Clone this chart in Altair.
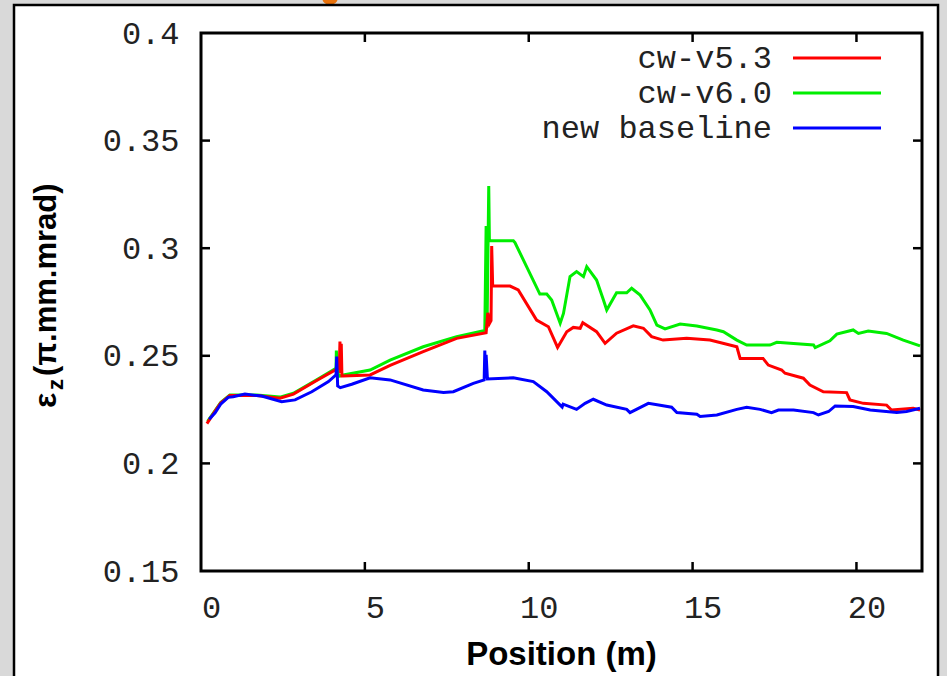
import altair as alt
import pandas as pd

# ---- data ----
series_names = ["cw-v5.3", "cw-v6.0", "new baseline"]
series_colors = ["#ff0000", "#00ee00", "#0000ff"]

red_x = [0.18, 0.43, 0.6, 0.88, 1.7, 2.41, 2.82, 3.53, 4.14, 4.22, 4.24, 4.26, 4.28, 4.30, 4.34,
         5.16, 5.77, 6.78, 7.8, 8.70, 8.75, 8.80, 8.85, 8.87, 8.90, 9.43, 9.68, 10.24, 10.6, 10.88,
         11.16, 11.36, 11.57, 11.65, 12.07, 12.33, 12.68, 13.19, 13.5, 13.75, 14.1, 14.82, 15.53,
         16.35, 16.45, 17.15, 17.31, 17.72, 17.82, 18.38, 18.58, 18.99, 19.7, 19.8, 20.21, 20.92,
         21.07, 21.73, 21.94]
red_y = [0.2185, 0.2243, 0.228, 0.2315, 0.2315, 0.2303, 0.2322, 0.2385, 0.2438, 0.2445, 0.2566,
         0.242, 0.2556, 0.2406, 0.2406, 0.2411, 0.2455, 0.2519, 0.2581, 0.2607, 0.27, 0.265, 0.2664,
         0.301, 0.2824, 0.2824, 0.2806, 0.2666, 0.2635, 0.2539, 0.2612, 0.2632, 0.2628, 0.2654,
         0.2612, 0.2558, 0.2605, 0.2639, 0.2628, 0.2589, 0.2573, 0.2581, 0.2573, 0.2542, 0.2488,
         0.2488, 0.2457, 0.2434, 0.2419, 0.2396, 0.2364, 0.2333, 0.2329, 0.2295, 0.2279, 0.2271,
         0.2248, 0.2256, 0.2248]

green_x = [0.2, 0.43, 0.6, 0.88, 1.7, 2.41, 2.82, 3.53, 4.12, 4.13, 4.16, 4.2, 4.34, 5.16, 5.77,
           6.78, 7.8, 8.66, 8.70, 8.73, 8.78, 8.80, 9.53, 9.58, 10.34, 10.55, 10.7, 10.96, 11.06,
           11.26, 11.46, 11.67, 11.77, 12.07, 12.28, 12.38, 12.68, 12.99, 13.14, 13.4, 13.7, 13.91,
           14.16, 14.62, 15.13, 15.74, 15.94, 16.35, 16.65, 17.36, 17.57, 18.69, 18.74, 19.19, 19.4,
           19.9, 20.06, 20.36, 20.92, 21.43, 21.94]
green_y = [0.2195, 0.2245, 0.2283, 0.2318, 0.2318, 0.2308, 0.2326, 0.2388, 0.2442, 0.2524, 0.2448,
           0.2405, 0.2411, 0.2434, 0.248, 0.2542, 0.2589, 0.2618, 0.3103, 0.265, 0.3289, 0.3035,
           0.3035, 0.3026, 0.2787, 0.2787, 0.2759, 0.2651, 0.2697, 0.2868, 0.2891, 0.2868, 0.2914,
           0.2852, 0.2759, 0.2713, 0.2793, 0.2793, 0.2814, 0.2782, 0.2713, 0.2643, 0.2625, 0.2648,
           0.2638, 0.262, 0.2612, 0.2573, 0.255, 0.255, 0.2563, 0.255, 0.2538, 0.257, 0.2601, 0.262,
           0.2604, 0.2615, 0.2604, 0.2573, 0.2546]

blue_x = [0.25, 0.43, 0.6, 0.83, 0.98, 1.34, 1.85, 2.46, 2.87, 3.38, 3.89, 4.12, 4.14, 4.17, 4.25,
          4.6, 5.16, 5.77, 6.78, 7.4, 7.7, 8.31, 8.64, 8.66, 8.68, 8.70, 8.74, 9.53, 10.14, 10.55,
          10.96, 11.02, 11.05, 11.46, 11.72, 11.97, 12.38, 12.99, 13.09, 13.65, 14.01, 14.36, 14.52,
          15.13, 15.23, 15.74, 16.35, 16.65, 17.06, 17.41, 17.62, 18.08, 18.69, 18.84, 19.15, 19.35,
          19.9, 20.42, 21.23, 21.53, 21.94]
blue_y = [0.2205, 0.2235, 0.2275, 0.2307, 0.231, 0.2322, 0.2313, 0.2287, 0.2295, 0.2333, 0.238,
          0.2412, 0.2496, 0.236, 0.2352, 0.2368, 0.2398, 0.2388, 0.2341, 0.2329, 0.2333, 0.2372,
          0.2388, 0.2524, 0.2395, 0.2505, 0.2392, 0.2398, 0.238, 0.2333, 0.2271, 0.2262, 0.2275,
          0.2251, 0.2279, 0.2298, 0.2271, 0.2251, 0.2236, 0.2279, 0.227, 0.2261, 0.2236, 0.2228,
          0.2218, 0.2225, 0.2251, 0.2261, 0.2251, 0.2236, 0.2248, 0.2248, 0.2236, 0.2225, 0.2241,
          0.2267, 0.2264, 0.2248, 0.2236, 0.2241, 0.2256]

x_ticks = [0, 5, 10, 15, 20]
y_ticks = [0.15, 0.2, 0.25, 0.3, 0.35, 0.4]

# ---- layout ----
W, H = 721, 538
PL, PT = 201, 33
MONO = "Liberation Mono"
SANS = "Liberation Sans"
FS = 32


def frame(xs, ys, name):
    n = min(len(xs), len(ys))
    return pd.DataFrame({"x": xs[:n], "y": ys[:n], "i": list(range(n)), "series": [name] * n})


xs = alt.Scale(domain=[0, 22], nice=False, zero=False)
ys = alt.Scale(domain=[0.15, 0.4], nice=False, zero=False)
xaxis = alt.Axis(values=x_ticks, format="d", title=None, ticks=False, domain=False, grid=False,
                 labelFont=MONO, labelFontSize=FS, labelColor="#222", labelPadding=21,
                 labelOffset=10, labelFlush=False, zindex=2)
yaxis = alt.Axis(values=y_ticks, format=".2~f", title=None, ticks=False, domain=False, grid=False,
                 labelFont=MONO, labelFontSize=FS, labelColor="#222", labelPadding=22,
                 labelFlush=False, zindex=2)
X = alt.X("x:Q", scale=xs, axis=xaxis)
Y = alt.Y("y:Q", scale=ys, axis=yaxis)

layers = []

# decorative orange blob cut off at top (slide title remnant)
layers.append(alt.Chart(pd.DataFrame({"a": [0]})).mark_point(
    filled=True, color="#e8720c", size=260, opacity=1).encode(
    x=alt.value(330 - PL), y=alt.value(-PT - 3)))

# white slide panel
layers.append(alt.Chart(pd.DataFrame({"a": [0]})).mark_rect(
    fill="white", stroke="black", strokeWidth=2.5).encode(
    x=alt.value(14 - PL), x2=alt.value(938 - PL), y=alt.value(5 - PT), y2=alt.value(700 - PT)))

# data lines (green below red below blue)
for xs_, ys_, name, col in [(green_x, green_y, "cw-v6.0", series_colors[1]),
                            (red_x, red_y, "cw-v5.3", series_colors[0]),
                            (blue_x, blue_y, "new baseline", series_colors[2])]:
    layers.append(alt.Chart(frame(xs_, ys_, name)).mark_line(
        color=col, strokeWidth=3, interpolate="linear").encode(
        x=X, y=Y, order="i:Q"))

# inward ticks
xt = pd.DataFrame({"x": [5, 10, 15, 20]})
yt = pd.DataFrame({"y": [0.2, 0.25, 0.3, 0.35]})
TL = 9
layers.append(alt.Chart(xt).mark_rule(color="black", strokeWidth=2.5).encode(
    x=X, y=alt.value(H), y2=alt.value(H - TL)))
layers.append(alt.Chart(xt).mark_rule(color="black", strokeWidth=2.5).encode(
    x=X, y=alt.value(0), y2=alt.value(TL)))
layers.append(alt.Chart(yt).mark_rule(color="black", strokeWidth=2.5).encode(
    y=Y, x=alt.value(0), x2=alt.value(TL)))
layers.append(alt.Chart(yt).mark_rule(color="black", strokeWidth=2.5).encode(
    y=Y, x=alt.value(W), x2=alt.value(W - TL)))

# plot frame
layers.append(alt.Chart(pd.DataFrame({"a": [0]})).mark_rect(
    filled=False, stroke="black", strokeWidth=3).encode(
    x=alt.value(0), x2=alt.value(W), y=alt.value(0), y2=alt.value(H)))

# legend (top-right, label left of line sample)
leg_y = [58 - PT, 93 - PT, 128 - PT]
for name, col, yy in zip(series_names, series_colors, leg_y):
    layers.append(alt.Chart(pd.DataFrame({"t": [name]})).mark_text(
        font=MONO, fontSize=FS, color="#222", align="right", baseline="middle").encode(
        text="t:N", x=alt.value(772 - PL), y=alt.value(yy)))
    layers.append(alt.Chart(pd.DataFrame({"a": [0]})).mark_rule(
        color=col, strokeWidth=3).encode(
        x=alt.value(793 - PL), x2=alt.value(881 - PL), y=alt.value(yy)))

# x title
layers.append(alt.Chart(pd.DataFrame({"t": ["Position (m)"]})).mark_text(
    font=SANS, fontSize=33, fontWeight="bold", color="black", align="center",
    baseline="middle").encode(text="t:N", x=alt.value(W / 2), y=alt.value(655 - PT)))

# y title: epsilon with subscript z, then units
layers.append(alt.Chart(pd.DataFrame({"t": ["ε"]})).mark_text(
    font=SANS, fontSize=32, fontWeight="bold", color="black", angle=270, align="left",
    baseline="alphabetic").encode(text="t:N", x=alt.value(56 - PL), y=alt.value(408 - PT)))
layers.append(alt.Chart(pd.DataFrame({"t": ["z"]})).mark_text(
    font=SANS, fontSize=22, fontWeight="bold", color="black", angle=270, align="left",
    baseline="alphabetic").encode(text="t:N", x=alt.value(63 - PL), y=alt.value(390 - PT)))
layers.append(alt.Chart(pd.DataFrame({"t": ["(π.mm.mrad)"]})).mark_text(
    font=SANS, fontSize=31, fontWeight="bold", color="black", angle=270, align="left",
    baseline="alphabetic").encode(text="t:N", x=alt.value(56 - PL), y=alt.value(376 - PT)))

chart = alt.layer(*layers).properties(
    width=W, height=H,
    autosize=alt.AutoSizeParams(type="none"),
    padding={"left": PL, "top": PT, "right": 947 - PL - W, "bottom": 676 - PT - H},
    background="#d9d9d9",
).configure_view(stroke=None)

chart.save("out.html", embed_options={"renderer": "svg", "actions": False})
